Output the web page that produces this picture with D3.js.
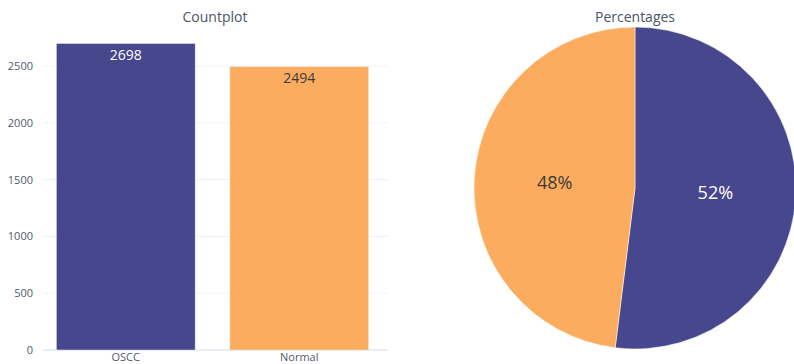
<!DOCTYPE html>
<html>
<head>
<meta charset="utf-8">
<script src="https://cdn.jsdelivr.net/npm/d3@7"></script>
<style>
  body { margin: 0; background: #fff; }
  text { font-family: "Open Sans", sans-serif; }
</style>
</head>
<body>
<svg id="chart"></svg>
<script>
// data
const categories = ['OSCC', 'Normal'];
const counts = [2698, 2494];
const yTicks = [0, 500, 1000, 1500, 2000, 2500];
const colors = ['#47478D', '#FCAC5E'];

const width = 794, height = 364;
const svg = d3.select('#chart').attr('width', width).attr('height', height);

// ---- bar chart ----
const bar = {left: 39, right: 386, top: 66, bottom: 350};

const xScale = d3.scaleBand()
    .domain(categories)
    .range([bar.left, bar.right])
    .paddingInner(0.2)
    .paddingOuter(0.1);

const yScale = d3.scaleLinear()
    .domain([0, 2500])
    .range([bar.bottom, bar.top]);

// gridlines
svg.append('g')
  .selectAll('line')
  .data(yTicks)
  .join('line')
    .attr('x1', bar.left + 4)
    .attr('x2', bar.right + 2)
    .attr('y1', d => yScale(d))
    .attr('y2', d => yScale(d))
    .attr('stroke', d => d === 0 ? '#E2E8F0' : '#EEF2F8')
    .attr('stroke-width', d => d === 0 ? 1.5 : 1);

// y axis
const yAxis = d3.axisLeft(yScale).tickValues(yTicks).tickFormat(d3.format('d')).tickSize(0).tickPadding(6);
const yAxisG = svg.append('g')
    .attr('transform', `translate(${bar.left},0)`)
    .call(yAxis);
yAxisG.select('.domain').remove();
yAxisG.selectAll('text')
    .attr('fill', '#505A6A')
    .style('font-size', '11px');

// x axis
const xAxis = d3.axisBottom(xScale).tickSize(0).tickPadding(3);
const xAxisG = svg.append('g')
    .attr('transform', `translate(0,${bar.bottom})`)
    .call(xAxis);
xAxisG.select('.domain').remove();
xAxisG.selectAll('text')
    .attr('fill', '#505A6A')
    .style('font-size', '11px');

// bars
svg.append('g')
  .selectAll('rect')
  .data(counts)
  .join('rect')
    .attr('x', (d, i) => xScale(categories[i]))
    .attr('y', d => yScale(d))
    .attr('width', xScale.bandwidth())
    .attr('height', d => yScale(0) - yScale(d))
    .attr('fill', (d, i) => colors[i])
    .attr('stroke', '#E5ECF6')
    .attr('stroke-width', 0.5);

// bar labels
svg.append('g')
  .selectAll('text')
  .data(counts)
  .join('text')
    .attr('x', (d, i) => xScale(categories[i]) + xScale.bandwidth() / 2)
    .attr('y', d => yScale(d) + 16)
    .attr('text-anchor', 'middle')
    .attr('fill', (d, i) => i === 0 ? '#ffffff' : '#3a3a3a')
    .style('font-size', '14px')
    .text(d => d);

svg.append('text')
    .attr('x', 215)
    .attr('y', 22)
    .attr('text-anchor', 'middle')
    .attr('fill', '#4A5566')
    .style('font-size', '14px')
    .text('Countplot');

// ---- pie chart ----
const cx = 635, cy = 188, r = 161;
const total = d3.sum(counts);

const pie = d3.pie().sort(null).value(d => d);
const arc = d3.arc().innerRadius(0).outerRadius(r);
const arcs = pie(counts);

const pieG = svg.append('g').attr('transform', `translate(${cx},${cy})`);

pieG.selectAll('path')
  .data(arcs)
  .join('path')
    .attr('d', arc)
    .attr('fill', (d, i) => colors[i])
    .attr('stroke', '#ffffff')
    .attr('stroke-width', 0.5);

const labelArc = d3.arc().innerRadius(r * 0.5).outerRadius(r * 0.5);
pieG.selectAll('text')
  .data(arcs)
  .join('text')
    .attr('transform', d => `translate(${labelArc.centroid(d)})`)
    .attr('text-anchor', 'middle')
    .attr('dy', '0.35em')
    .attr('fill', (d, i) => i === 0 ? '#ffffff' : '#3a3a3a')
    .style('font-size', '18px')
    .text(d => Math.round(d.data / total * 100) + '%');

svg.append('text')
    .attr('x', cx)
    .attr('y', 22)
    .attr('text-anchor', 'middle')
    .attr('fill', '#4A5566')
    .style('font-size', '14px')
    .text('Percentages');
</script>
</body>
</html>
